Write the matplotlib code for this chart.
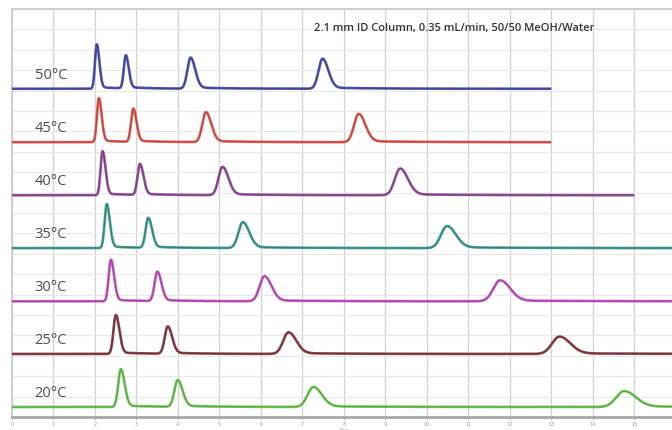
import numpy as np
import matplotlib
matplotlib.use("Agg")
import matplotlib.pyplot as plt

# Column temperatures, top trace first
temperatures = ["50°C", "45°C", "40°C", "35°C", "30°C", "25°C", "20°C"]
colors = ["#5353b2", "#e05a50", "#95529f", "#42a093", "#c458c2", "#8c414c", "#6fc855"]

# Retention times (min) of the four peaks in each run
retention = [
    [2.05, 2.75, 4.31, 7.49],
    [2.10, 2.93, 4.68, 8.36],
    [2.19, 3.09, 5.08, 9.36],
    [2.29, 3.29, 5.57, 10.49],
    [2.39, 3.51, 6.09, 11.77],
    [2.51, 3.76, 6.67, 13.20],
    [2.63, 4.00, 7.27, 14.76],
]
# Peak heights (signal units)
heights = [
    [2.18, 1.62, 1.52, 1.47],
    [2.16, 1.63, 1.47, 1.39],
    [2.16, 1.52, 1.39, 1.31],
    [2.16, 1.47, 1.27, 1.08],
    [2.04, 1.44, 1.23, 1.03],
    [1.91, 1.34, 1.06, 0.85],
    [1.85, 1.31, 0.98, 0.78],
]
# Leading-edge peak widths (sigma, min)
widths = [
    [0.043, 0.048, 0.077, 0.096],
    [0.046, 0.053, 0.087, 0.111],
    [0.048, 0.058, 0.096, 0.128],
    [0.051, 0.063, 0.106, 0.145],
    [0.053, 0.067, 0.116, 0.164],
    [0.058, 0.072, 0.128, 0.178],
    [0.063, 0.080, 0.140, 0.193],
]
# Vertical offset of each trace and the run length (min)
offsets = [16.09, 13.47, 10.87, 8.28, 5.67, 3.09, 0.49]
run_end = [13.0, 13.0, 15.0, 16.5, 16.5, 16.5, 16.5]

title = "2.1 mm ID Column, 0.35 mL/min, 50/50 MeOH/Water"
x_ticks = list(range(0, 16))


def peak(t, t0, h, s):
    """Tailing peak: narrow leading edge, wider trailing edge plus a faint tail."""
    sig = np.where(t < t0, s, 1.45 * s)
    core = h * np.exp(-0.5 * ((t - t0) / sig) ** 2)
    tail = np.where(t > t0, 0.04 * h * np.exp(-(t - t0) / (12 * s)), 0.0)
    tail *= 1 - np.exp(-0.5 * ((t - t0) / (1.45 * s)) ** 2)
    return core + tail


fig = plt.figure(figsize=(6.72, 4.31), dpi=100)
W, H = 672, 431
left_px, top_px, bottom_px = 11.7, 10.0, 418.0
ax = fig.add_axes([left_px / W, (H - bottom_px) / H, (W - left_px) / W,
                   (bottom_px - top_px) / H])
xmax = (W - left_px) / 41.5
ax.set_xlim(0, xmax)
ax.set_ylim(0, 20)

# grid
for xv in x_ticks:
    ax.axvline(xv, color="#d2d2d2", lw=0.9, zorder=0)
for yv in range(0, 21):
    ax.axhline(yv, color="#e8e8e8", lw=0.8, zorder=0)

for name, col, rt, hh, ww, off, tend in zip(temperatures, colors, retention,
                                             heights, widths, offsets, run_end):
    t = np.linspace(0, tend, 4000)
    y = np.zeros_like(t)
    for t0, h, s in zip(rt, hh, ww):
        y += peak(t, t0, h, s)
    ax.plot(t, y + off, color=col, lw=1.9, solid_capstyle="butt", zorder=3)
    ax.plot(t, y + off, color="black", lw=0.6, alpha=0.22, zorder=4)
    ax.text(0.55, off + 0.72, name, fontsize=10.5, color="#4d4d4d",
            family=["Open Sans", "DejaVu Sans"], va="center", ha="left", zorder=5)

ax.text(10.66, 19.07, title, fontsize=8.0, color="#333333", fontweight="semibold",
        family=["Open Sans", "DejaVu Sans"], ha="center", va="center")

ax.spines["right"].set_visible(False)
ax.spines["top"].set_color("#c8c8c8")
ax.spines["left"].set_color("#c8c8c8")
ax.spines["bottom"].set_color("#a8a8a8")
ax.spines["bottom"].set_linewidth(2.0)
ax.spines["top"].set_linewidth(1.2)
ax.spines["left"].set_linewidth(1.2)

ax.set_yticks([])
ax.set_xticks(x_ticks)
ax.set_xticklabels([str(v) for v in x_ticks], fontsize=3.5, color="#999999")
ax.tick_params(axis="x", length=2, width=0.6, color="#aaaaaa", pad=1)
ax.text(8.0, -0.5, "Time", fontsize=3.2, color="#999999", ha="center", va="top",
        clip_on=False)

fig.savefig("out.png", dpi=100)
